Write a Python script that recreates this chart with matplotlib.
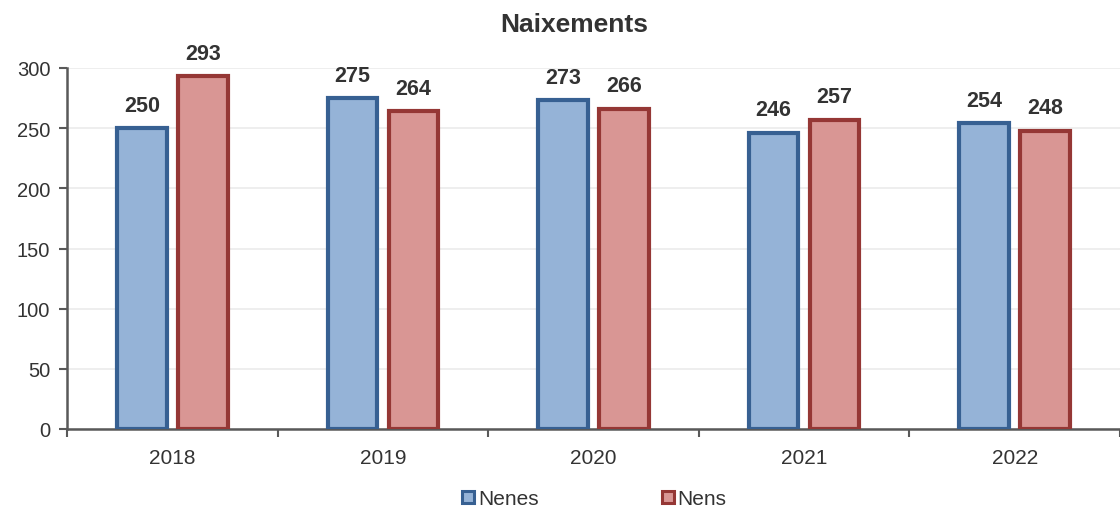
import matplotlib
matplotlib.use("Agg")
import matplotlib.pyplot as plt
from matplotlib.lines import Line2D
import numpy as np

plt.rcParams['font.family'] = ['Liberation Sans', 'DejaVu Sans']

years = ["2018", "2019", "2020", "2021", "2022"]
nenes = [250, 275, 273, 246, 254]
nens = [293, 264, 266, 257, 248]
series_names = ["Nenes", "Nens"]

blue_face, blue_edge = "#95B3D7", "#376092"
red_face, red_edge = "#D99694", "#953735"

fig = plt.figure(figsize=(11.2, 5.1), dpi=100)
ax = fig.add_axes([67/1120, 80/510, 1 - 67/1120, (430-69)/510])

x = np.arange(len(years))
w = 0.235
off = 0.145
b1 = ax.bar(x - off, nenes, w, color=blue_face, edgecolor=blue_edge, linewidth=3, zorder=3)
b2 = ax.bar(x + off, nens, w, color=red_face, edgecolor=red_edge, linewidth=3, zorder=3)

for bars, vals in ((b1, nenes), (b2, nens)):
    for r, v in zip(bars, vals):
        ax.annotate(str(v), (r.get_x() + r.get_width()/2, v), xytext=(0, 9),
                    textcoords="offset points", ha="center", va="bottom",
                    fontsize=15.5, fontweight="bold", color="#333333", clip_on=False)

ax.set_xlim(-0.5, len(years) - 0.5)
ax.set_ylim(0, 300)
ax.set_yticks(range(0, 301, 50))
ax.set_xticks(x)
ax.set_xticklabels(years)
ax.set_xticks(np.arange(-0.5, len(years), 1.0), minor=True)
ax.tick_params(axis='x', which='major', length=0, pad=14, labelsize=15, labelcolor="#333333")
ax.tick_params(axis='x', which='minor', length=6, width=1.5, color="#595959", direction='out')
ax.tick_params(axis='y', length=6, width=1.5, color="#595959", labelsize=14.5, labelcolor="#333333", pad=6)

ax.grid(axis='y', color="#EBEBEB", linewidth=1.2, zorder=0)
for s in ("top", "right"):
    ax.spines[s].set_visible(False)
for s in ("left", "bottom"):
    ax.spines[s].set_color("#595959")
    ax.spines[s].set_linewidth(1.8)

fig.text(0.513, 1 - 25/510, "Naixements", ha="center", va="center", fontsize=19, fontweight="bold", color="#333333")

handles = [Line2D([], [], marker='s', linestyle='none', markersize=8.5, markerfacecolor=blue_face,
                  markeredgecolor=blue_edge, markeredgewidth=2.2),
           Line2D([], [], marker='s', linestyle='none', markersize=8.5, markerfacecolor=red_face,
                  markeredgecolor=red_edge, markeredgewidth=2.2)]
fig.legend(handles, series_names, loc="center", bbox_to_anchor=(0.530, 1 - 500/510), ncol=2,
           frameon=False, fontsize=15, handletextpad=0.1, columnspacing=5.85, handlelength=0.7,
           labelcolor="#333333")

fig.savefig("out.png", dpi=100)
